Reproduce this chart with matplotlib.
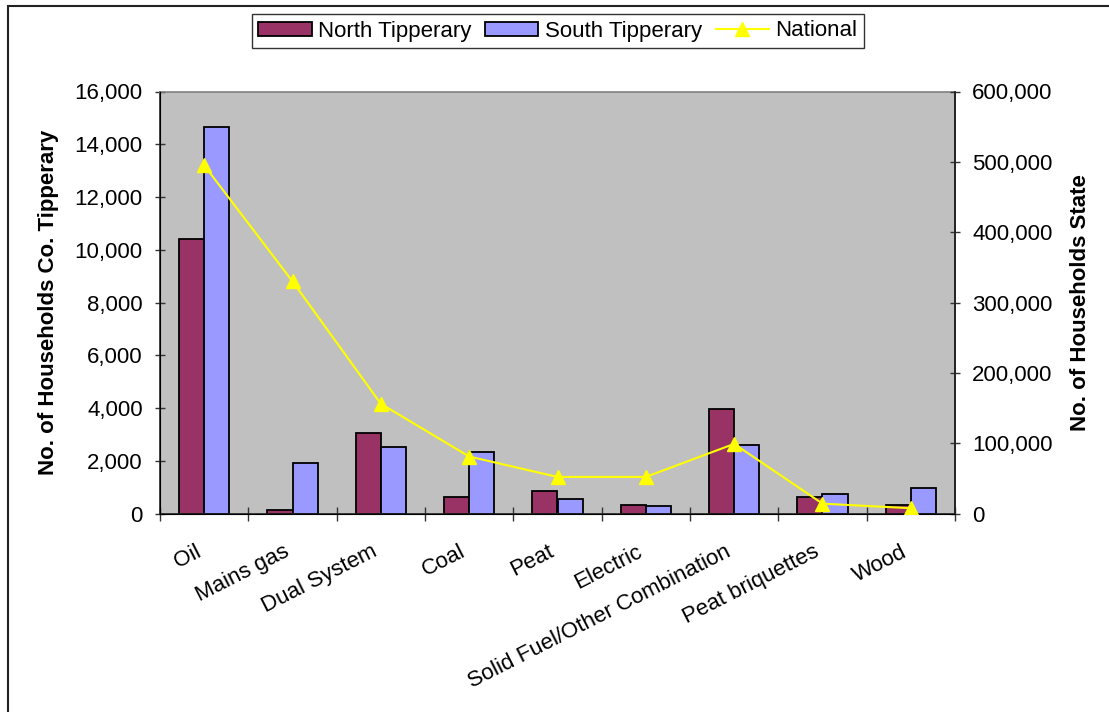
import matplotlib
matplotlib.use("Agg")
import matplotlib.pyplot as plt
from matplotlib.patches import Rectangle
from matplotlib.lines import Line2D
from matplotlib.ticker import FuncFormatter, MultipleLocator, FixedLocator
import numpy as np

plt.rcParams['font.family'] = ['Liberation Sans', 'DejaVu Sans']

categories = ["Oil", "Mains gas", "Dual System", "Coal", "Peat", "Electric",
              "Solid Fuel/Other Combination", "Peat briquettes", "Wood"]
north_tipperary = [10400, 150, 3050, 620, 870, 340, 3960, 620, 340]
south_tipperary = [14650, 1930, 2510, 2320, 540, 280, 2580, 740, 950]
national = [495000, 330000, 156000, 81000, 52000, 52000, 99000, 14000, 7500]

fs = 16
fig = plt.figure(figsize=(11.09, 7.12), dpi=100)
ax = fig.add_axes([160 / 1109, 1 - 513.5 / 712, (955 - 160) / 1109, (513.5 - 91.5) / 712])
ax.set_facecolor('#C0C0C0')

x = np.arange(len(categories))
w = 1 / 3.5
ax.bar(x - w / 2, north_tipperary, width=w, color='#993366', edgecolor='black',
       linewidth=1.3, label='North Tipperary', zorder=2)
ax.bar(x + w / 2, south_tipperary, width=w, color='#9999FF', edgecolor='black',
       linewidth=1.3, label='South Tipperary', zorder=2)

ax.set_xlim(-0.5, len(categories) - 0.5)
ax.set_ylim(0, 16000)
ax.yaxis.set_major_locator(MultipleLocator(2000))
thousands = FuncFormatter(lambda v, p: f"{int(v):,}")
ax.yaxis.set_major_formatter(thousands)

# category boundaries carry the tick marks, centres carry the labels
ax.xaxis.set_major_locator(FixedLocator(np.arange(-0.5, len(categories), 1.0)))
ax.xaxis.set_major_formatter(FuncFormatter(lambda v, p: ""))
ax.tick_params(axis='x', which='major', direction='inout', length=10, width=1, color='#333333')
ax.set_xticks(x, minor=True)
ax.set_xticklabels(categories, minor=True, rotation=27, ha='right', va='top', fontsize=fs)
ax.tick_params(axis='x', which='minor', length=0, pad=20)

ax.tick_params(axis='y', direction='inout', length=7, width=1, labelsize=fs, pad=9, color='#333333')
ax.set_ylabel("No. of Households Co. Tipperary", fontsize=fs, fontweight='bold', labelpad=11)

for side in ['left', 'bottom', 'right']:
    ax.spines[side].set_color('#222222')
    ax.spines[side].set_linewidth(1.2)
ax.spines['top'].set_color('#808080')
ax.spines['top'].set_linewidth(1.2)

ax2 = ax.twinx()
ax2.plot(x, national, color='#FFFF00', linewidth=1.5, marker='^', markersize=10,
         markeredgecolor='#FFFF00', label='National', zorder=3)
ax2.set_ylim(0, 600000)
ax2.yaxis.set_major_locator(MultipleLocator(100000))
ax2.yaxis.set_major_formatter(thousands)
ax2.tick_params(axis='y', direction='inout', length=7, width=1, labelsize=fs, pad=9, color='#333333')
ax2.set_ylabel("No. of Households State", fontsize=fs, fontweight='bold', labelpad=12)
ax2.spines['right'].set_color('#222222')
ax2.spines['right'].set_linewidth(1.2)
ax2.spines['top'].set_visible(False)

handles = [
    Rectangle((0, 0), 1, 1, facecolor='#993366', edgecolor='black', linewidth=1.3),
    Rectangle((0, 0), 1, 1, facecolor='#9999FF', edgecolor='black', linewidth=1.3),
    Line2D([], [], color='#FFFF00', linewidth=1.5, marker='^', markersize=10),
]
leg = fig.legend(handles, ["North Tipperary", "South Tipperary", "National"],
                 loc='center', bbox_to_anchor=(558 / 1109, 1 - 31 / 712), ncol=3,
                 fontsize=fs, frameon=True, fancybox=False, edgecolor='black',
                 handlelength=2.4, handleheight=0.6, handletextpad=0.3,
                 columnspacing=0.6, borderpad=0.3, borderaxespad=0)
leg.get_frame().set_linewidth(1.0)

# outer chart border
fig.patches.append(Rectangle((8 / 1109, -0.1), 1.2, 1 - 6 / 712 + 0.1,
                             transform=fig.transFigure, fill=False,
                             edgecolor='#222222', linewidth=1.5))

fig.savefig("out.png", dpi=100)
